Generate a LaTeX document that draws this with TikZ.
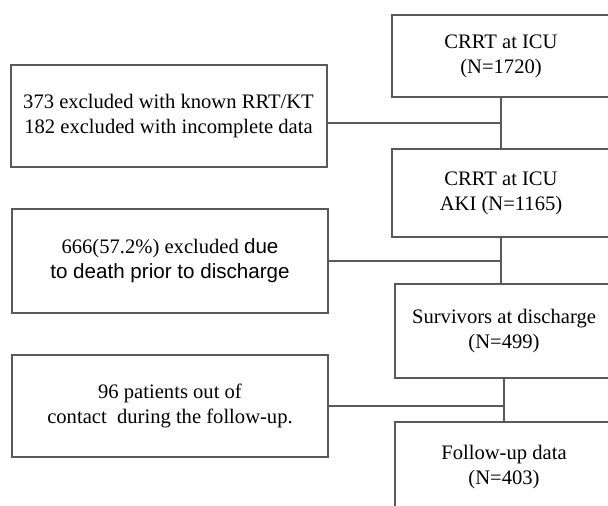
\documentclass[tikz,border=0pt]{standalone}
\usepackage{fontspec}
\setmainfont{Liberation Serif}
\newfontfamily\arialfont{Liberation Sans}

\begin{document}
\begin{tikzpicture}[x=0.5pt,y=-0.5pt,
    every node/.style={draw=black!65, line width=1pt, align=center, inner sep=0pt, outer sep=0pt, font=\fontsize{10.3}{12.5}\selectfont},
    stagebox/.style={minimum width=109pt},
    exclbox/.style={minimum width=158pt},
    link/.style={draw=black!65, line width=1pt}]
    \useasboundingbox (0,0) rectangle (608,506);

    \node[stagebox, minimum height=41pt] (icu) at (501,56) {CRRT at ICU\\(N=1720)};
    \node[stagebox, minimum height=44pt] (aki) at (501,193) {CRRT at ICU\\AKI (N=1165)};
    \node[stagebox, minimum height=47pt] (surv) at (504,331) {Survivors at discharge\\(N=499)};
    \node[stagebox, minimum height=45pt] (fup) at (504,467) {Follow-up data\\(N=403)};

    \node[exclbox, minimum height=51pt] (known) at (168.5,116) {373 excluded with known RRT/KT\\182 excluded with incomplete data};
    \node[exclbox, minimum height=52pt] (death) at (170,261) {666(57.2\%) excluded {\arialfont due}\\{\arialfont to death prior to discharge}};
    \node[exclbox, minimum height=51pt] (lost) at (170,406) {96 patients out of\\contact\ \ during the follow-up.};

    \coordinate (j1) at ([yshift=-3.5pt]known.east -| icu.south);
    \coordinate (j2) at (death.east -| aki.south);
    \coordinate (j3) at (lost.east -| surv.south);

    \draw[link] (icu.south) -- (aki.north);
    \draw[link] (aki.south) -- (aki.south |- surv.north);
    \draw[link] (surv.south) -- (fup.north);
    \draw[link] ([yshift=-3.5pt]known.east) -- (j1);
    \draw[link] (death.east) -- (j2);
    \draw[link] (lost.east) -- (j3);
\end{tikzpicture}
\end{document}
